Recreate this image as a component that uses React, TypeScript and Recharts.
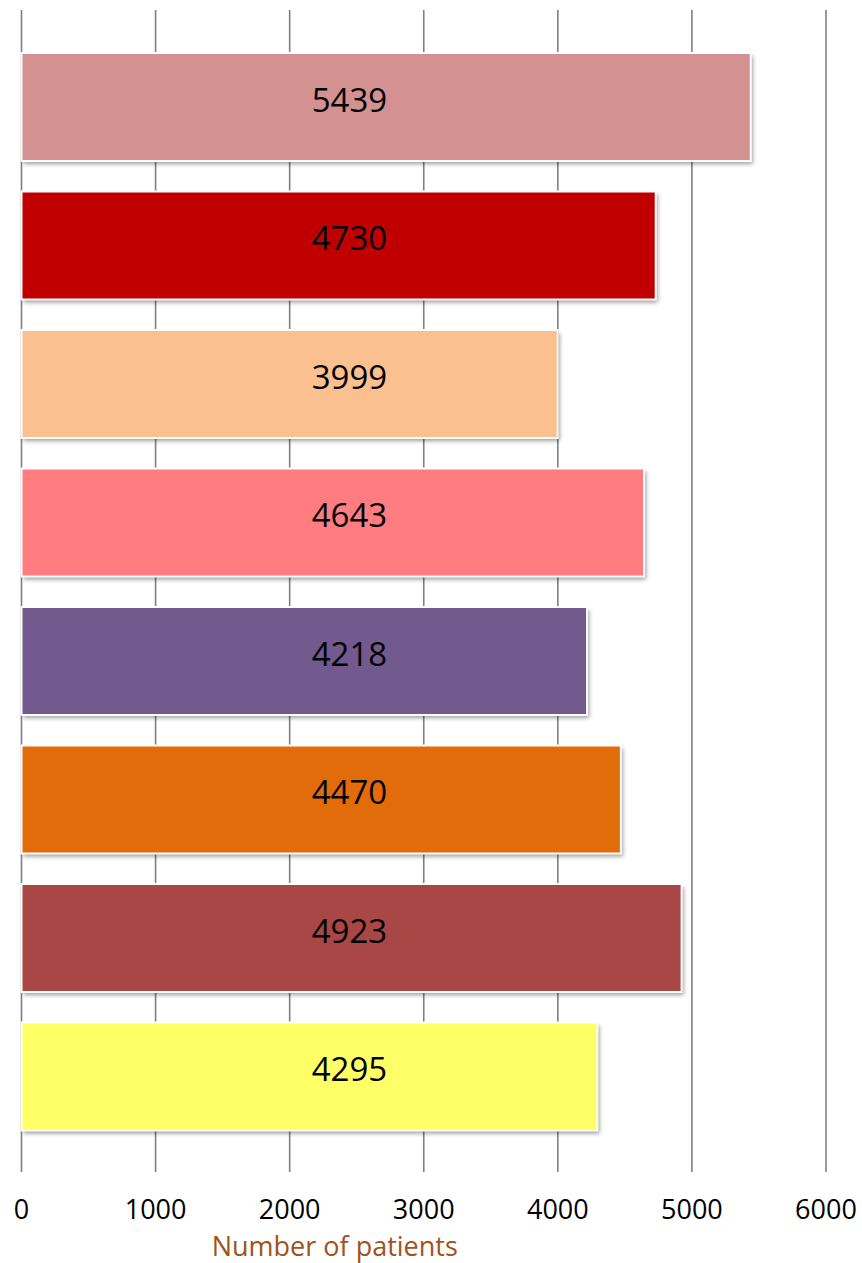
import { BarChart, Bar, XAxis, YAxis, CartesianGrid, Cell, LabelList } from "recharts";

const categories = ["Group 1", "Group 2", "Group 3", "Group 4", "Group 5", "Group 6", "Group 7", "Group 8"];
const patients = [5439, 4730, 3999, 4643, 4218, 4470, 4923, 4295];
const barColors = [
  "#D39291", // dusty rose
  "#C00000", // dark red
  "#FAC090", // peach
  "#FF7C80", // salmon
  "#72598E", // purple
  "#E36C0A", // orange
  "#A84745", // brick
  "#FFFF66", // yellow
];
const xTicks = [0, 1000, 2000, 3000, 4000, 5000, 6000];

const FONT = "'Open Sans', 'Noto Sans', sans-serif";

const data = categories.map((name, i) => ({ name, value: patients[i], color: barColors[i] }));

function ShadowBar(props: any) {
  const { x, y, width, height, fill, index } = props;
  const id = `bar-shadow-${index}`;
  return (
    <g>
      <defs>
        <filter id={id} x="-10%" y="-10%" width="120%" height="130%">
          <feGaussianBlur stdDeviation="2.2" />
        </filter>
      </defs>
      <rect x={x + 2} y={y + 3} width={width} height={height} fill="#000" opacity={0.38} filter={`url(#${id})`} />
      <rect x={x} y={y} width={width} height={height} fill={fill} stroke="#FFFFFF" strokeWidth={2} />
    </g>
  );
}

function ValueLabel(props: any) {
  const { x, y, height, value } = props;
  return (
    <text
      x={x + 328}
      y={y + height / 2 - 8}
      textAnchor="middle"
      dominantBaseline="central"
      fontFamily={FONT}
      fontSize={33}
      fill="#000"
    >
      {value}
    </text>
  );
}

export default function App() {
  return (
    <div style={{ position: "absolute", left: 0, top: 0, width: 862, height: 1263, background: "#fff" }}>
      <BarChart
        width={862}
        height={1263}
        data={data}
        layout="vertical"
        margin={{ top: 10, right: 36, bottom: 0, left: 21.5 }}
      >
        <CartesianGrid horizontal={false} stroke="#808080" strokeWidth={1.6} />
        <XAxis
          type="number"
          domain={[0, 6000]}
          ticks={xTicks}
          axisLine={false}
          tickLine={false}
          tickMargin={22}
          height={91}
          tick={{ fontSize: 27, fill: "#000", fontFamily: FONT }}
          label={{
            value: "Number of patients",
            position: "insideBottom",
            offset: 7,
            dx: -89,
            fill: "#A0521A",
            fontSize: 27,
            fontFamily: FONT,
          }}
        />
        <YAxis type="category" dataKey="name" hide padding={{ top: 28, bottom: 26 }} />
        <Bar dataKey="value" barSize={108} shape={<ShadowBar />} isAnimationActive={false}>
          {data.map((d) => (
            <Cell key={d.name} fill={d.color} />
          ))}
          <LabelList dataKey="value" content={<ValueLabel />} />
        </Bar>
      </BarChart>
    </div>
  );
}
